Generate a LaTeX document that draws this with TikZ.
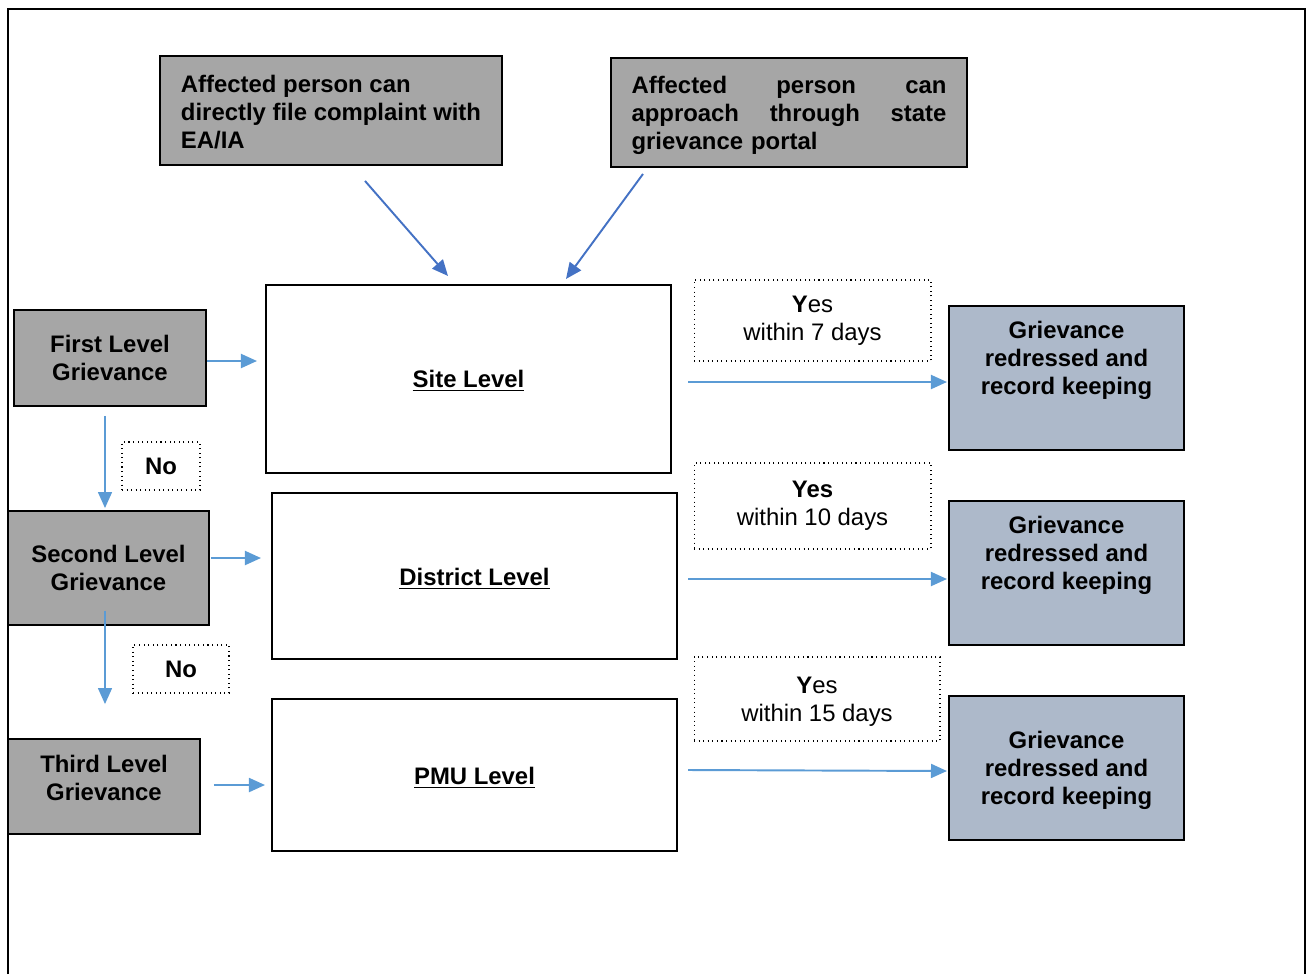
\documentclass[tikz,border=0pt]{standalone}
\usepackage{fontspec}
\setmainfont{Liberation Sans}
\usetikzlibrary{arrows.meta}
\definecolor{boxgray}{HTML}{A6A6A6}
\definecolor{resblue}{HTML}{ADB9CA}
\definecolor{arrlight}{HTML}{5B9BD5}
\definecolor{arrdark}{HTML}{4472C4}
\tikzset{
  base/.style={font=\fontsize{13.6pt}{15.9pt}\selectfont, inner sep=0pt},
  graybox/.style={base, draw=black, line width=1.1pt, fill=boxgray, font=\fontsize{13.6pt}{15.9pt}\selectfont\bfseries, align=center},
  levelbox/.style={base, draw=black, line width=1.2pt, fill=white, font=\fontsize{13.6pt}{15.9pt}\selectfont\bfseries},
  resbox/.style={base, draw=black, line width=1.2pt, fill=resblue},
  restext/.style={base, font=\fontsize{13.6pt}{15.9pt}\selectfont\bfseries, align=center},
  dotbox/.style={base, draw=black, line width=0.6pt, dotted, align=center},
  arr/.style={draw=arrlight, line width=1.1pt, -{Triangle[length=0.32cm,width=0.28cm]}},
  arrthin/.style={draw=arrlight, line width=0.8pt, -{Triangle[length=0.32cm,width=0.28cm]}},
  arrD/.style={draw=arrdark, line width=1.1pt, -{Triangle[length=0.32cm,width=0.28cm]}},
}
\begin{document}
\begin{tikzpicture}[x=0.02cm,y=-0.02cm]
\useasboundingbox (0,0) rectangle (1310,974);
% outer frame (open at bottom)
\draw[line width=1.1pt] (8,974) -- (8,9) -- (1305,9) -- (1305,974);

% top boxes
\node[graybox, align=left, minimum width=6.84cm, minimum height=2.18cm] (a1) at (331,110.5) {};
\node[restext, align=left] (a1t) at (331,112) {Affected person can\\directly file complaint with\\EA/IA};
\node[graybox, minimum width=7.12cm, minimum height=2.18cm] (a2) at (789,112.5) {};
\node[restext, align=left, text width=6.3cm] (a2t) at (789,115)
  {Affected\hfill person\hfill can\\approach\hfill through\hfill state\\grievance portal};

% level boxes
\node[levelbox, minimum width=8.1cm, minimum height=3.76cm] (site) at (468.5,379) {};
\node[restext] (sitet) at (468.5,381) {\underline{Site Level}};
\node[levelbox, minimum width=8.1cm, minimum height=3.32cm] (district) at (474.5,576) {};
\node[restext] (districtt) at (474.5,579) {\underline{District Level}};
\node[levelbox, minimum width=8.1cm, minimum height=3.04cm] (pmu) at (474.5,775) {};
\node[restext] (pmut) at (474.5,778) {\underline{PMU Level}};

% grievance boxes
\node[graybox, minimum width=3.84cm, minimum height=1.92cm] (first) at (110,358) {First Level\\Grievance};
\node[graybox, minimum width=4.02cm, minimum height=2.28cm] (second) at (108.5,568) {Second Level\\Grievance};
\node[graybox, minimum width=3.84cm, minimum height=1.9cm] (third) at (104,786.5) {};
\node[restext] (thirdt) at (104,778) {Third Level\\Grievance};

% No labels
\node[dotbox, minimum width=1.56cm, minimum height=0.96cm, font=\fontsize{13.6pt}{15.9pt}\selectfont\bfseries] (no1) at (161,466) {No};
\node[dotbox, minimum width=1.92cm, minimum height=0.96cm, font=\fontsize{13.6pt}{15.9pt}\selectfont\bfseries] (no2) at (181,669) {No};

% Yes labels
\node[dotbox, minimum width=4.74cm, minimum height=1.62cm] (yes1) at (812.5,320.5) {};
\node[base, align=center] (yes1t) at (812.5,320.5) {\textbf{Y}es\\within 7 days};
\node[dotbox, minimum width=4.74cm, minimum height=1.72cm] (yes2) at (812.5,506) {};
\node[base, align=center] (yes2t) at (812.5,505.5) {\textbf{Yes}\\within 10 days};
\node[dotbox, minimum width=4.92cm, minimum height=1.68cm] (yes3) at (817,699) {};
\node[base, align=center] (yes3t) at (817,702) {\textbf{Y}es\\within 15 days};

% result boxes
\node[resbox, minimum width=4.7cm, minimum height=2.88cm] (res1) at (1066.5,378) {};
\node[restext] (res1t) at (1066.5,360) {Grievance\\redressed and\\record keeping};
\node[resbox, minimum width=4.7cm, minimum height=2.88cm] (res2) at (1066.5,573) {};
\node[restext] (res2t) at (1066.5,555) {Grievance\\redressed and\\record keeping};
\node[resbox, minimum width=4.7cm, minimum height=2.88cm] (res3) at (1066.5,768) {};
\node[restext] (res3t) at (1066.5,770) {Grievance\\redressed and\\record keeping};

% diagonal arrows
\draw[arrD] ([shift={(34,15)}]a1.south) -- ([shift={(-20.5,-8)}]site.north);
\draw[arrD] ([shift={(-146,6)}]a2.south) -- ([shift={(97.5,-5)}]site.north);

% grievance -> level arrows
\draw[arr] ([shift={(0,3)}]first.east) -- ([shift={(-8,3)}]first.east -| site.west);
\draw[arr] ([shift={(1,-10)}]second.east) -- ([shift={(-10,-10)}]second.east -| district.west);
\draw[arr] ([shift={(13,-1.5)}]third.east) -- ([shift={(-6,-1.5)}]third.east -| pmu.west);

% vertical arrows
\draw[arrthin] ([shift={(-5,9)}]first.south) -- ([shift={(-3.5,-2)}]second.north);
\draw[arrthin] ([shift={(-3.5,-15)}]second.south) -- ([shift={(1,-34)}]third.north);

% level -> result arrows
\draw[arr] ([shift={(16,3)}]site.east) -- ([shift={(-1,4)}]res1.west);
\draw[arr] ([shift={(10,3)}]district.east) -- ([shift={(-1,6)}]res2.west);
\draw[arr] ([shift={(10,-5)}]pmu.east) -- ([shift={(-1,3)}]res3.west);
\end{tikzpicture}
\end{document}
